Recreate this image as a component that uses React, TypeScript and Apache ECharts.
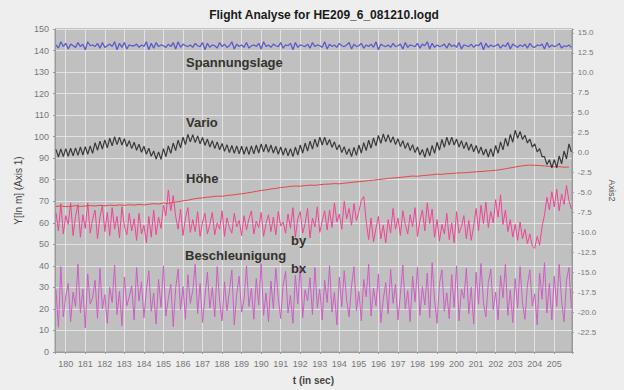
import React, { useEffect, useRef } from "react";
import * as echarts from "echarts";

// sampling grid (seconds)
const T_START = 179.5;
const DT_FAST = 0.125;
const DT_HOEHE = 0.25;

// x-axis range (seconds)
const X_MIN = 179.45;
const X_MAX = 205.9;

// Spannungslage (Axis2)
const spannungslage = [
  13.5, 13.1, 13.9, 13.3, 13.7, 13.0, 13.6, 13.4,
  13.2, 13.8, 13.3, 13.6, 12.9, 13.9, 13.4, 13.5,
  13.3, 13.7, 13.1, 13.8, 13.2, 13.4, 13.6, 13.3,
  13.9, 12.9, 13.7, 13.2, 13.8, 13.0, 13.5, 13.4,
  13.4, 13.6, 13.2, 13.5, 13.3, 13.9, 12.9, 13.7,
  13.1, 13.8, 13.3, 13.5, 13.4, 13.2, 13.6, 13.3,
  13.8, 13.0, 13.9, 13.2, 13.6, 13.4, 13.3, 13.5,
  13.2, 13.7, 13.4, 13.3, 13.8, 12.9, 13.7, 13.2,
  13.5, 13.4, 13.1, 13.8, 13.3, 13.6, 13.2, 13.4,
  13.9, 13.0, 13.6, 13.3, 13.5, 13.2, 13.8, 13.1,
  13.4, 13.5, 13.3, 13.7, 13.0, 13.9, 13.3, 13.5,
  13.2, 13.6, 13.4, 13.3, 13.8, 13.1, 13.5, 13.4,
  13.7, 12.9, 13.8, 13.2, 13.5, 13.4, 13.3, 13.6,
  13.1, 13.8, 13.3, 13.5, 13.4, 13.2, 13.9, 13.0,
  13.6, 13.3, 13.5, 13.2, 13.7, 13.4, 13.3, 13.5,
  13.8, 13.0, 13.6, 13.3, 13.4, 13.7, 13.1, 13.5,
  13.3, 13.6, 13.2, 13.9, 12.9, 13.6, 13.4, 13.3,
  13.5, 13.2, 13.7, 13.3, 13.4, 13.6, 13.0, 13.8,
  13.2, 13.5, 13.4, 13.3, 13.7, 13.1, 13.6, 13.4,
  13.9, 13.0, 13.7, 13.2, 13.5, 13.3, 13.4, 13.6,
  13.1, 13.7, 13.3, 13.5, 13.2, 13.8, 13.0, 13.5,
  13.4, 13.3, 13.6, 13.2, 13.5, 13.4, 13.8, 12.9,
  13.7, 13.2, 13.5, 13.3, 13.4, 13.6, 13.1, 13.5,
  13.3, 13.8, 13.0, 13.6, 13.4, 13.2, 13.5, 13.3,
  13.6, 13.1, 13.7, 13.3, 13.2, 13.5, 13.4, 13.6,
  13.0, 13.8, 13.2, 13.5, 13.3, 13.4, 13.7, 13.1,
  13.4, 13.3, 13.5, 13.2,
];

// Vario (Axis2)
const vario = [
  0.4, -0.55, 0.45, -0.5, 0.5, -0.45, 0.55, -0.4,
  0.6, -0.35, 0.7, -0.3, 0.75, -0.2, 0.85, -0.1,
  1.25, 0.3, 1.45, 0.45, 1.6, 0.6, 1.8, 0.85,
  2.0, 1.0, 1.95, 0.95, 1.75, 0.75, 1.5, 0.5,
  1.3, 0.3, 1.05, 0.05, 0.8, -0.2, 0.55, -0.45,
  0.2, -0.8, 0.1, -0.85, 0.5, -0.5, 0.85, -0.1,
  1.2, 0.25, 1.55, 0.6, 1.95, 1.0, 2.3, 1.35,
  2.25, 1.25, 2.1, 1.1, 1.9, 0.9, 1.7, 0.7,
  1.5, 0.5, 1.35, 0.35, 1.15, 0.15, 1.0, 0.0,
  0.9, -0.1, 0.85, -0.15, 0.8, -0.2, 0.75, -0.25,
  0.85, -0.15, 0.95, -0.05, 1.1, 0.1, 1.05, 0.05,
  0.95, -0.05, 0.8, -0.2, 0.7, -0.3, 0.6, -0.4,
  0.5, -0.5, 0.7, -0.3, 0.95, -0.05, 1.2, 0.2,
  1.45, 0.45, 1.7, 0.7, 1.95, 0.95, 1.95, 0.95,
  1.65, 0.65, 1.35, 0.35, 1.0, 0.0, 0.75, -0.25,
  0.5, -0.5, 0.65, -0.35, 0.95, -0.05, 1.25, 0.25,
  1.55, 0.55, 1.85, 0.85, 2.15, 1.15, 2.35, 1.35,
  2.25, 1.25, 2.0, 1.0, 1.75, 0.75, 1.5, 0.5,
  1.25, 0.25, 1.0, 0.0, 0.7, -0.3, 0.4, -0.6,
  0.6, -0.4, 0.9, -0.1, 1.3, 0.3, 1.65, 0.65,
  1.95, 0.95, 1.95, 0.95, 1.7, 0.7, 1.5, 0.5,
  1.3, 0.3, 1.1, 0.1, 0.9, -0.1, 0.7, -0.3,
  0.45, -0.55, 0.5, -0.5, 0.9, -0.1, 1.35, 0.35,
  1.8, 0.8, 2.3, 1.3, 2.8, 1.8, 2.65, 1.65,
  2.2, 1.2, 1.7, 0.7, 1.1, 0.1, 0.5, -0.5,
  -0.5, -1.5, -0.9, -1.9, -0.9, -1.9, -0.4, -1.4,
  0.2, -0.8, 1.1, 0.1,
];

// Höhe (Axis 1, m)
const hoehe = [
  67.6, 67.8, 67.5, 67.7, 67.9, 67.6, 67.8, 68.0,
  67.8, 68.1, 67.9, 68.2, 68.0, 68.3, 68.1, 68.4,
  68.2, 68.5, 68.3, 68.6, 68.9, 68.7, 69.2, 69.0,
  69.5, 69.8, 70.2, 70.5, 71.0, 71.4, 71.6, 71.9,
  72.1, 72.4, 72.3, 72.7, 72.9, 73.2, 73.5, 73.8,
  74.2, 74.6, 75.0, 75.3, 75.7, 76.0, 76.4, 76.6,
  76.9, 77.1, 77.0, 77.3, 77.5, 77.4, 77.7, 77.9,
  78.0, 78.2, 78.1, 78.4, 78.6, 78.9, 79.1, 79.3,
  79.6, 79.8, 80.1, 80.3, 80.6, 80.8, 81.0, 81.2,
  81.5, 81.7, 81.6, 81.9, 82.1, 82.3, 82.6, 82.5,
  82.8, 82.9, 83.1, 83.2, 83.3, 83.5, 83.7, 83.8,
  84.0, 84.2, 84.4, 84.7, 85.1, 85.5, 85.9, 86.3,
  86.6, 86.8, 86.7, 86.6, 86.4, 86.2, 86.0, 86.1,
  85.8, 85.9,
];

// Beschleunigung by (Axis2)
const by = [
  -7.5, -9.8, -6.4, -10.2, -7.9, -9.0, -6.3, -10.4,
  -8.0, -6.5, -10.6, -7.8, -9.5, -6.3, -10.1, -8.4,
  -7.2, -10.8, -8.1, -6.6, -9.9, -7.5, -10.4, -6.9,
  -9.6, -8.0, -10.7, -6.8, -9.2, -10.3, -7.6, -9.8,
  -8.3, -11.0, -7.6, -10.2, -9.1, -11.3, -8.0, -10.6,
  -7.2, -10.3, -8.1, -9.5, -6.6, -7.9, -4.7, -7.3,
  -5.4, -8.0, -9.6, -7.1, -10.4, -8.2, -6.9, -10.0,
  -8.4, -9.9, -7.4, -10.5, -8.7, -7.6, -10.2, -9.0,
  -7.5, -10.3, -8.8, -9.6, -7.3, -10.5, -8.2, -9.4,
  -10.1, -7.6, -9.3, -8.5, -10.4, -7.9, -9.7, -8.3,
  -7.3, -10.2, -8.6, -9.4, -7.5, -10.5, -8.9, -7.8,
  -9.9, -8.1, -10.3, -7.4, -9.2, -8.7, -10.1, -7.7,
  -9.5, -6.9, -10.6, -8.3, -7.4, -10.1, -8.9, -7.0,
  -10.7, -8.2, -9.3, -6.8, -10.0, -8.6, -7.3, -9.7,
  -7.2, -9.4, -6.3, -8.7, -7.7, -9.6, -6.1, -8.3,
  -7.0, -9.1, -6.4, -8.5, -7.4, -6.0, -5.5, -8.6,
  -10.9, -8.2, -11.2, -9.5, -8.0, -10.8, -9.1, -11.3,
  -8.4, -10.1, -7.0, -9.6, -8.2, -10.4, -7.3, -9.0,
  -10.2, -7.8, -9.3, -6.9, -10.5, -8.5, -7.2, -9.8,
  -6.3, -8.9, -7.1, -10.6, -8.4, -11.1, -9.0, -10.2,
  -7.6, -10.9, -8.8, -11.3, -7.4, -10.1, -9.3, -7.9,
  -10.8, -8.5, -11.0, -9.2, -7.0, -9.8, -6.6, -8.9,
  -6.2, -9.4, -7.4, -8.8, -5.9, -8.1, -5.3, -9.0,
  -7.2, -9.9, -8.4, -10.6, -9.0, -11.0, -8.7, -10.8,
  -9.6, -11.4, -10.2, -11.7, -12.0, -10.5, -11.6, -9.3,
  -7.8, -5.6, -7.2, -4.9, -6.8, -4.6, -7.3, -5.2,
  -6.5, -4.1, -6.0, -7.1,
];

// Beschleunigung bx (Axis2)
const bx = [
  -17.2, -21.9, -14.3, -20.6, -18.0, -16.4, -21.2, -17.5,
  -19.3, -14.0, -20.1, -17.1, -22.0, -15.2, -19.0, -18.2,
  -16.0, -20.8, -14.5, -19.6, -17.8, -21.4, -16.9, -18.8,
  -14.1, -20.3, -17.4, -21.7, -15.6, -19.2, -18.1, -16.7,
  -21.0, -14.4, -18.6, -16.2, -20.7, -17.3, -14.8, -19.9,
  -17.6, -21.5, -15.9, -19.4, -14.2, -20.5, -18.3, -16.5,
  -21.8, -17.0, -14.6, -19.7, -16.8, -20.9, -15.3, -18.9,
  -17.3, -14.0, -20.2, -16.4, -21.3, -18.0, -15.0, -19.5,
  -16.9, -20.6, -14.3, -18.7, -21.1, -16.2, -19.8, -17.4,
  -14.7, -21.6, -17.7, -15.5, -20.0, -18.4, -14.2, -19.3,
  -17.0, -20.9, -15.8, -19.1, -13.9, -20.4, -17.6, -21.2,
  -16.1, -19.6, -14.5, -18.2, -20.8, -16.6, -14.9, -20.1,
  -17.9, -21.4, -15.4, -19.0, -14.1, -20.7, -17.2, -18.6,
  -15.7, -20.3, -14.4, -19.5, -17.1, -21.0, -16.0, -18.8,
  -14.2, -20.0, -17.5, -21.6, -15.6, -19.3, -14.8, -18.5,
  -20.6, -16.7, -14.3, -19.8, -17.4, -21.1, -15.9, -18.1,
  -14.0, -20.5, -17.0, -19.2, -15.2, -21.3, -18.4, -16.3,
  -20.2, -14.6, -18.9, -16.5, -21.0, -17.8, -14.1, -19.6,
  -17.3, -21.2, -15.5, -18.7, -14.4, -20.4, -16.8, -19.1,
  -15.1, -20.7, -13.8, -18.5, -21.4, -16.4, -14.7, -19.9,
  -17.6, -20.8, -15.3, -19.4, -14.2, -21.1, -17.1, -18.3,
  -14.5, -20.2, -16.9, -21.5, -15.0, -19.0, -13.9, -18.8,
  -20.6, -16.3, -14.6, -19.7, -17.5, -21.0, -15.4, -18.2,
  -14.0, -20.4, -17.2, -21.3, -15.8, -19.5, -14.3, -18.9,
  -20.9, -16.6, -14.7, -19.2, -17.7, -21.6, -15.1, -18.4,
  -13.8, -20.1, -16.4, -21.0, -15.5, -19.3, -14.0, -18.6,
  -21.2, -16.0, -14.4, -19.5,
];

const FONT = '"Liberation Sans", Arial, sans-serif';

const toPairs = (vals: number[], dt: number) =>
  vals.map((v, i) => [T_START + i * dt, v]);

export default function App() {
  const ref = useRef<HTMLDivElement | null>(null);

  useEffect(() => {
    if (!ref.current) return;
    const chart = echarts.init(ref.current, undefined, { renderer: "svg" });

    const lineSeries = (
      name: string,
      data: number[][],
      color: string,
      yAxisIndex: number,
      width = 1
    ) => ({
      name,
      type: "line",
      data,
      yAxisIndex,
      showSymbol: false,
      symbol: "none",
      lineStyle: { color, width },
      itemStyle: { color },
      z: 3,
    });

    const isMult = (v: number, step: number) =>
      Math.abs(v / step - Math.round(v / step)) < 1e-6;

    chart.setOption({
      animation: false,
      backgroundColor: "#eeeeee",
      textStyle: { fontFamily: FONT },
      title: {
        text: "Flight Analyse for HE209_6_081210.logd",
        left: 319,
        top: 4,
        textAlign: "center",
        textStyle: {
          fontFamily: FONT,
          fontSize: 12,
          fontWeight: "bold",
          color: "#1a1a1a",
        },
      },
      grid: {
        left: 55,
        right: 41,
        top: 29,
        bottom: 33,
        show: true,
        backgroundColor: "#c0c0c0",
        borderColor: "#9a9a9a",
        borderWidth: 1,
      },
      xAxis: {
        type: "value",
        min: X_MIN,
        max: X_MAX,
        splitNumber: 26,
        name: "t (in sec)",
        nameLocation: "middle",
        nameGap: 23,
        nameTextStyle: {
          fontFamily: FONT,
          fontSize: 10,
          fontWeight: "bold",
          color: "#444",
        },
        axisLine: { show: true, lineStyle: { color: "#9a9a9a" } },
        axisTick: { show: true, length: 2, lineStyle: { color: "#9a9a9a" } },
        axisLabel: {
          fontSize: 9,
          color: "#777",
          margin: 7,
          formatter: (v: number) => (isMult(v, 1) ? String(Math.round(v)) : ""),
        },
        splitLine: { show: true, lineStyle: { color: "#e2e2e2", width: 1 } },
      },
      yAxis: [
        {
          type: "value",
          position: "left",
          min: 0,
          max: 150,
          interval: 10,
          name: "Y[In m] (Axis 1)",
          nameLocation: "middle",
          nameGap: 29,
          nameTextStyle: { fontFamily: FONT, fontSize: 10, color: "#444" },
          axisLine: { show: true, lineStyle: { color: "#9a9a9a" } },
          axisTick: { show: true, length: 2, lineStyle: { color: "#9a9a9a" } },
          axisLabel: { fontSize: 9, color: "#777", margin: 6 },
          splitLine: { show: true, lineStyle: { color: "#e2e2e2", width: 1 } },
        },
        {
          type: "value",
          position: "right",
          min: -25,
          max: 15.5,
          interval: 2.5,
          name: "Axis2",
          nameLocation: "middle",
          nameGap: 24,
          nameRotate: -90,
          nameTextStyle: { fontFamily: FONT, fontSize: 9, color: "#555" },
          axisLine: { show: true, lineStyle: { color: "#9a9a9a" } },
          axisTick: { show: true, length: 2, lineStyle: { color: "#9a9a9a" } },
          axisLabel: {
            fontSize: 8,
            color: "#777",
            margin: 6,
            formatter: (v: number) =>
              v > -24.9 && isMult(v, 2.5) ? v.toFixed(1) : "",
          },
          splitLine: { show: false },
        },
      ],
      series: [
        lineSeries("bx", toPairs(bx, DT_FAST), "#cc5ec4", 1),
        lineSeries("by", toPairs(by, DT_FAST), "#ee4596", 1),
        lineSeries("Höhe", toPairs(hoehe, DT_HOEHE), "#e24848", 0),
        lineSeries("Vario", toPairs(vario, DT_FAST), "#3a3a3a", 1, 1.2),
        lineSeries("Spannungslage", toPairs(spannungslage, DT_FAST), "#5b5bd0", 1, 1.3),
      ],
      graphic: [
        ["Spannungslage", 186, 62],
        ["Vario", 186, 122],
        ["Höhe", 186, 178],
        ["by", 291, 240],
        ["Beschleunigung", 185, 255],
        ["bx", 291, 268],
      ].map(([text, x, y]) => ({
        type: "text",
        x,
        y,
        z: 100,
        style: {
          text,
          fontFamily: FONT,
          fontSize: 13,
          fontWeight: "bold",
          fill: "#33332c",
          align: "left",
          verticalAlign: "middle",
        },
      })),
    });

    return () => chart.dispose();
  }, []);

  return (
    <div
      style={{
        position: "fixed",
        left: 0,
        top: 0,
        width: 624,
        height: 390,
        background: "#eeeeee",
      }}
    >
      <div ref={ref} style={{ width: 624, height: 390 }} />
    </div>
  );
}
